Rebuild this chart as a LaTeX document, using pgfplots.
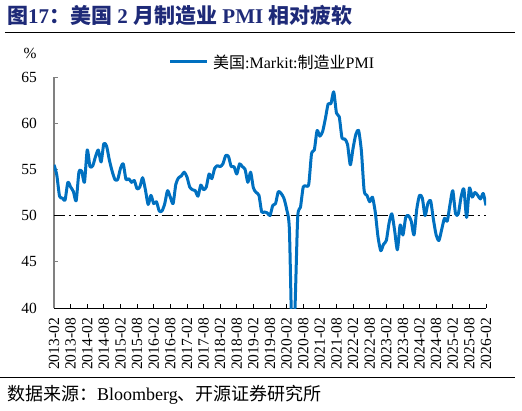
\documentclass[border=0pt]{standalone}
\usepackage{pgfplots}
\pgfplotsset{compat=1.18}
\usepackage{fontspec}
\setmainfont{Liberation Serif}
\newfontfamily\cjk{Noto Sans CJK SC}
\definecolor{pmiblue}{HTML}{0070C0}
\definecolor{titleblue}{HTML}{1E2A78}
\begin{document}
\begin{tikzpicture}
\useasboundingbox (-54pt,-102pt) rectangle (468pt,308pt);
\begin{axis}[
  scale only axis, width=432pt, height=231pt,
  xmin=0, xmax=156, ymin=40, ymax=65,
  axis lines=left, axis line style={-},
  x axis line style={black, line width=1pt},
  y axis line style={gray, line width=1.3pt},
  xtick={0,6,...,156},
  xticklabels={2013-02,2013-08,2014-02,2014-08,2015-02,2015-08,2016-02,2016-08,2017-02,2017-08,2018-02,2018-08,2019-02,2019-08,2020-02,2020-08,2021-02,2021-08,2022-02,2022-08,2023-02,2023-08,2024-02,2024-08,2025-02,2025-08,2026-02},
  ytick={40,45,...,65},
  tick align=inside, major tick length=4pt,
  x tick style={black, line width=0.8pt},
  y tick style={gray, line width=0.8pt},
  xticklabel style={rotate=90, anchor=east, inner sep=0pt, font=\fontsize{15.5}{16}\selectfont},
  xticklabel shift=10pt,
  yticklabel style={anchor=east, inner sep=0pt, font=\fontsize{15.5}{16}\selectfont},
  yticklabel shift=17pt,
  /pgf/number format/assume math mode=true,
]
\addplot[black, line width=1.3pt, dash pattern=on 11pt off 4pt on 2.5pt off 4pt] coordinates {(0,50) (156,50)};
\addplot[pmiblue, line width=3pt, smooth, tension=0.4, line join=round] coordinates {
(0,55.5) (1,54.4) (2,52.1) (3,51.9) (4,51.7) (5,53.6) (6,53.1) (7,52.6) (8,51.6) (9,54.7)
(10,54.8) (11,53.6) (12,57.1) (13,55.3) (14,55.4) (15,56.4) (16,57.1) (17,55.8) (18,57.8) (19,57.5)
(20,56.0) (21,54.8) (22,53.9) (23,53.9) (24,55.1) (25,55.6) (26,53.9) (27,54.0) (28,53.6) (29,53.8)
(30,52.9) (31,53.1) (32,54.1) (33,52.8) (34,51.2) (35,52.2) (36,51.3) (37,51.5) (38,50.5) (39,50.5)
(40,51.3) (41,52.7) (42,52.0) (43,51.3) (44,53.4) (45,54.1) (46,54.3) (47,54.7) (48,54.2) (49,53.1)
(50,52.8) (51,52.7) (52,52.1) (53,53.3) (54,52.8) (55,53.1) (56,54.5) (57,54.0) (58,55.1) (59,55.4)
(60,55.3) (61,55.6) (62,56.5) (63,56.4) (64,55.3) (65,55.3) (66,54.5) (67,55.6) (68,55.3) (69,55.0)
(70,53.6) (71,54.7) (72,53.0) (73,52.5) (74,52.2) (75,50.4) (76,50.4) (77,50.3) (78,50.0) (79,51.1)
(80,51.3) (81,52.6) (82,52.4) (83,51.9) (84,50.7) (85,48.5) (86,36.1) (87,39.8) (88,49.8) (89,50.9)
(90,53.1) (91,53.2) (92,53.4) (93,56.7) (94,57.1) (95,59.2) (96,58.6) (97,59.1) (98,60.5) (99,62.1)
(100,62.1) (101,63.4) (102,61.1) (103,60.7) (104,58.4) (105,58.3) (106,57.7) (107,55.5) (108,57.3) (109,58.8)
(110,59.2) (111,57.0) (112,52.7) (113,52.2) (114,51.5) (115,52.0) (116,50.4) (117,47.7) (118,46.2) (119,46.9)
(120,47.3) (121,49.2) (122,50.2) (123,48.4) (124,46.3) (125,49.0) (126,47.9) (127,49.8) (128,50.0) (129,49.4)
(130,47.9) (131,50.7) (132,52.2) (133,51.9) (134,50.0) (135,51.3) (136,51.6) (137,49.6) (138,47.9) (139,47.3)
(140,48.5) (141,49.7) (142,49.4) (143,51.2) (144,52.7) (145,50.2) (146,50.2) (147,52.0) (148,52.9) (149,49.8)
(150,53.0) (151,52.0) (152,52.5) (153,52.2) (154,51.8) (155,52.4) (156,51.1)
};
\end{axis}
% title
\node[anchor=west, inner sep=0pt, text=titleblue, font=\fontsize{21}{22}\selectfont\bfseries] at (-47pt,293pt)
  {{\cjk 图}17{\cjk ：美国} 2 {\cjk 月制造业} PMI {\cjk 相对疲软}};
\draw[black, line width=1pt] (-49pt,275pt) -- (461pt,275pt);
% unit
\node[inner sep=0pt, font=\fontsize{15.5}{16}\selectfont] at (-24pt,255pt) {\%};
% legend
\draw[pmiblue, line width=3pt] (116pt,246pt) -- (153pt,246pt);
\node[anchor=west, inner sep=0pt, font=\fontsize{16}{17}\selectfont] at (159pt,246pt)
  {{\cjk 美国}:Markit:{\cjk 制造业}PMI};
% source
\draw[black, line width=1pt] (-54pt,-69pt) -- (461pt,-69pt);
\node[anchor=west, inner sep=0pt, font=\fontsize{18}{19}\selectfont] at (-47pt,-87pt)
  {{\cjk 数据来源：}Bloomberg{\cjk 、开源证券研究所}};
\end{tikzpicture}
\end{document}
